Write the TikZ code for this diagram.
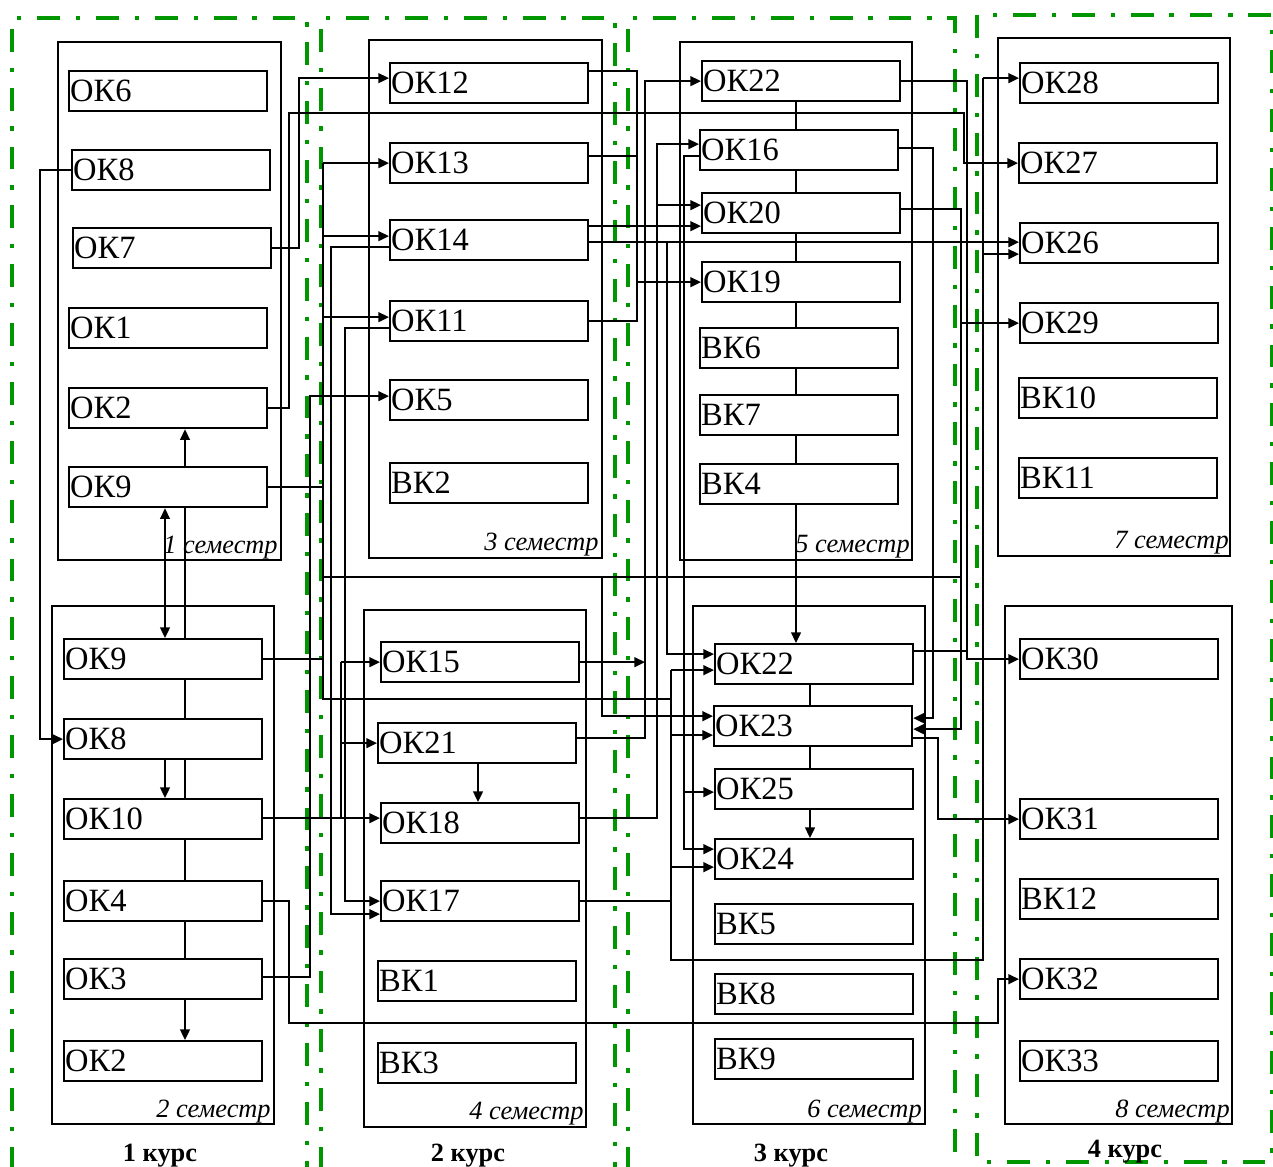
\documentclass[tikz,border=0pt]{standalone}
\usepackage{fontspec}
\setmainfont{Liberation Serif}
\usetikzlibrary{arrows.meta, calc}
\definecolor{KGreen}{RGB}{0,150,0}

\begin{document}
\begin{tikzpicture}[x=0.02cm, y=-0.02cm,
    kbox/.style={draw, line width=1.3pt, minimum width=3.96cm, minimum height=0.8cm,
                 text width=3.92cm, align=left, inner xsep=0.5pt, inner ysep=0pt,
                 font=\fontsize{18.5}{20}\selectfont, anchor=north west},
    sem/.style={draw, line width=1.2pt},
    kurs/.style={draw=KGreen, line width=2.2pt,
                 dash pattern=on 13pt off 9pt on 2.5pt off 9pt},
    link/.style={line width=1.1pt},
    arr/.style={link, -{Triangle[length=6pt,width=5.5pt]}},
    semlbl/.style={font=\fontsize{15}{17}\selectfont\itshape, anchor=base east, inner sep=0pt},
    kurslbl/.style={font=\fontsize{15}{17}\selectfont\bfseries, anchor=base, inner sep=0pt}
  ]
  \useasboundingbox (0,0) rectangle (1273,1166);

  % course frames
  \draw[kurs] (12,1170) -- (12,18) -- (307,18) -- (307,1170);
  \draw[kurs] (321,1170) -- (321,18) -- (615,18) -- (615,1170);
  \draw[kurs] (628,1170) -- (628,18) -- (955,18) -- (955,1170);
  \draw[kurs] (977,15) rectangle (1272,1162);

  % semesters
  \draw[sem] (58,42) rectangle (281,560);
  \draw[sem] (52,606) rectangle (274,1124);
  \draw[sem] (369,40) rectangle (602,558);
  \draw[sem] (364,610) rectangle (586,1127);
  \draw[sem] (680,42) rectangle (912,560);
  \draw[sem] (693,606) rectangle (925,1124);
  \draw[sem] (998,38) rectangle (1230,556);
  \draw[sem] (1005,606) rectangle (1232,1124);

  % disciplines
  \foreach \n/\x/\y/\t in {s1-ok6/68/70/ОК6, s1-ok8/71/149/ОК8, s1-ok7/72/227/ОК7,
      s1-ok1/68/307/ОК1, s1-ok2/68/387/ОК2, s1-ok9/68/466/ОК9}
    \node[kbox] (\n) at (\x,\y) {\t};
  \foreach \n/\x/\y/\t in {s2-ok9/63/638/ОК9, s2-ok8/63/718/ОК8, s2-ok10/63/798/ОК10,
      s2-ok4/63/880/ОК4, s2-ok3/63/958/ОК3, s2-ok2/63/1040/ОК2}
    \node[kbox] (\n) at (\x,\y) {\t};
  \foreach \n/\x/\y/\t in {s3-ok12/389/62/ОК12, s3-ok13/389/142/ОК13, s3-ok14/389/219/ОК14,
      s3-ok11/389/300/ОК11, s3-ok5/389/379/ОК5, s3-vk2/389/462/ВК2}
    \node[kbox] (\n) at (\x,\y) {\t};
  \foreach \n/\x/\y/\t in {s4-ok15/380/641/ОК15, s4-ok21/377/722/ОК21, s4-ok18/380/802/ОК18,
      s4-ok17/380/880/ОК17, s4-vk1/377/960/ВК1, s4-vk3/377/1042/ВК3}
    \node[kbox] (\n) at (\x,\y) {\t};
  \foreach \n/\x/\y/\t in {s5-ok22/701/60/ОК22, s5-ok16/699/129/ОК16, s5-ok20/701/192/ОК20,
      s5-ok19/701/261/ОК19, s5-vk6/699/327/ВК6, s5-vk7/699/394/ВК7, s5-vk4/699/463/ВК4}
    \node[kbox] (\n) at (\x,\y) {\t};
  \foreach \n/\x/\y/\t in {s6-ok22/714/643/ОК22, s6-ok23/713/705/ОК23, s6-ok25/714/768/ОК25,
      s6-ok24/714/838/ОК24, s6-vk5/714/903/ВК5, s6-vk8/714/973/ВК8, s6-vk9/714/1038/ВК9}
    \node[kbox] (\n) at (\x,\y) {\t};
  \foreach \n/\x/\y/\t in {s7-ok28/1019/62/ОК28, s7-ok27/1018/142/ОК27, s7-ok26/1019/222/ОК26,
      s7-ok29/1019/302/ОК29, s7-vk10/1018/377/ВК10, s7-vk11/1018/457/ВК11}
    \node[kbox] (\n) at (\x,\y) {\t};
  \foreach \n/\x/\y/\t in {s8-ok30/1019/638/ОК30, s8-ok31/1019/798/ОК31, s8-vk12/1019/878/ВК12,
      s8-ok32/1019/958/ОК32, s8-ok33/1019/1040/ОК33}
    \node[kbox] (\n) at (\x,\y) {\t};

  \node[semlbl] (l1) at (278,553) {1 семестр};
  \node[semlbl] (l2) at (271,1117) {2 семестр};
  \node[semlbl] (l3) at (599,550) {3 семестр};
  \node[semlbl] (l4) at (584,1119) {4 семестр};
  \node[semlbl] (l5) at (910,552) {5 семестр};
  \node[semlbl] (l6) at (922,1117) {6 семестр};
  \node[semlbl] (l7) at (1229,548) {7 семестр};
  \node[semlbl] (l8) at (1230,1117) {8 семестр};

  \node[kurslbl] (k1) at (160,1161) {1 курс};
  \node[kurslbl] (k2) at (468,1161) {2 курс};
  \node[kurslbl] (k3) at (791,1161) {3 курс};
  \node[kurslbl] (k4) at (1125,1157) {4 курс};

  % bus lines
  \coordinate (xL) at (40,0);
  \coordinate (xD) at (165,0);
  \coordinate (xS) at (185,0);
  \coordinate (xA) at (289,0);
  \coordinate (xB) at (299,0);
  \coordinate (xT) at (310,0);
  \coordinate (xC) at (323,0);
  \coordinate (xM) at (331,0);
  \coordinate (xK) at (341,0);
  \coordinate (xN) at (345,0);
  \coordinate (xW) at (478,0);
  \coordinate (xP) at (602,0);
  \coordinate (xE) at (637,0);
  \coordinate (xF) at (645,0);
  \coordinate (xG) at (657,0);
  \coordinate (xH) at (667,0);
  \coordinate (xJ) at (671,0);
  \coordinate (xQ) at (684,0);
  \coordinate (xU) at (796,0);
  \coordinate (xV) at (810,0);
  \coordinate (xX) at (933,0);
  \coordinate (xO) at (938,0);
  \coordinate (xY) at (961,0);
  \coordinate (xZ) at (964,0);
  \coordinate (xI) at (967,0);
  \coordinate (xR) at (983,0);
  \coordinate (x98) at (998,0);
  \coordinate (y113) at (0,113);
  \coordinate (y577) at (0,577);
  \coordinate (y699) at (0,699);
  \coordinate (y960) at (0,960);
  \coordinate (y1023) at (0,1023);

  % 1-2 semester
  \draw[arr] (s1-ok8.west) -| (xL |- s2-ok8.west) -- (s2-ok8.west);
  \draw[arr] (s1-ok9.north -| xS) -- (s1-ok2.south -| xS);
  \draw[link] (s1-ok9.south -| xS) -- (s2-ok9.north -| xS);
  \draw[link, {Triangle[length=6pt,width=5.5pt]}-{Triangle[length=6pt,width=5.5pt]}]
    (s1-ok9.south -| xD) -- (s2-ok9.north -| xD);
  \foreach \a/\b in {s2-ok9/s2-ok8, s2-ok8/s2-ok10, s2-ok10/s2-ok4, s2-ok4/s2-ok3}
    \draw[link] (\a.south -| xS) -- (\b.north -| xS);
  \draw[arr] (s2-ok8.south -| xD) -- (s2-ok10.north -| xD);
  \draw[arr] (s2-ok3.south -| xS) -- (s2-ok2.north -| xS);

  \draw[arr] (s1-ok2.east) -| (xA |- y113) -- (xZ |- y113) |- (s7-ok27.west);
  \draw[arr] (s1-ok7.east) -- (s1-ok7.east -| xB) |- ($(s3-ok12.west)+(0,-5)$);

  % OK9
  \draw[link] (s1-ok9.east) -- (s1-ok9.east -| xC);
  \draw[link] (s2-ok9.east) -- (s2-ok9.east -| xC);
  \draw[link] (xC |- s3-ok13.west) -- (xC |- y699) -- (xJ |- y699);
  \draw[arr] (xC |- s3-ok13.west) -- (s3-ok13.west);
  \draw[arr] ($(xC |- s3-ok14.west)+(0,-4)$) -- ($(s3-ok14.west)+(0,-4)$);
  \draw[arr] ($(xC |- s3-ok11.west)+(0,-4)$) -- ($(s3-ok11.west)+(0,-4)$);
  \draw[link] (xC |- y577) -- (xY |- y577);
  \draw[arr] (xP |- y577) |- ($(s6-ok23.west)+(0,-10)$);

  \draw[arr] ($(s3-ok14.west)+(0,7)$) -| ($(xM |- s4-ok17.west)+(0,13)$)
    -- ($(s4-ok17.west)+(0,13)$);
  \draw[arr] ($(s3-ok11.west)+(0,7)$) -| (xN |- s4-ok17.west) -- (s4-ok17.west);

  % OK10
  \draw[arr] ($(s2-ok10.east)+(0,-1)$) -- ($(s4-ok18.west)+(0,-5)$);
  \draw[link] ($(xK |- s4-ok18.west)+(0,-5)$) -- (xK |- s4-ok15.west);
  \draw[arr] (xK |- s4-ok15.west) -- (s4-ok15.west);
  \draw[arr] (xK |- s4-ok21.west) -- (s4-ok21.west);

  \draw[arr] ($(s2-ok3.east)+(0,-2)$) -| ($(xT |- s3-ok5.west)+(0,-4)$)
    -- ($(s3-ok5.west)+(0,-4)$);
  \draw[arr] (s2-ok4.east) -| (xA |- y1023) -| (x98 |- s8-ok32.west) -- (s8-ok32.west);

  % 3-4 semester
  \draw[link] ($(s3-ok12.east)+(0,-12)$) -- ($(s3-ok12.east -| xE)+(0,-12)$)
    -- (xE |- s3-ok11.east) -- (s3-ok11.east);
  \draw[link] ($(s3-ok13.east)+(0,-7)$) -- ($(s3-ok13.east -| xE)+(0,-7)$);
  \draw[arr] (xE |- s5-ok19.west) -- (s5-ok19.west);

  \draw[arr] ($(s4-ok21.east)+(0,-5)$) -| (xF |- s5-ok22.west) -- (s5-ok22.west);
  \draw[arr] (s4-ok15.east) -- (s4-ok15.east -| xF);
  \draw[arr] ($(s4-ok18.east)+(0,-5)$) -| ($(xG |- s5-ok16.west)+(0,-6)$)
    -- ($(s5-ok16.west)+(0,-6)$);
  \draw[arr] ($(xG |- s5-ok20.west)+(0,-8)$) -- ($(s5-ok20.west)+(0,-8)$);
  \draw[arr] ($(s3-ok14.east)+(0,-14)$) -- ($(s5-ok20.west)+(0,13)$);
  \draw[arr] ($(s3-ok14.east)+(0,2)$) -- ($(s7-ok26.west)+(0,-1)$);
  \draw[arr] ($(xH |- s3-ok14.east)+(0,2)$) |- ($(s6-ok22.west)+(0,-10)$);

  \draw[arr] ($(s5-ok16.west)+(0,6)$) -| ($(xQ |- s6-ok24.west)+(0,-10)$)
    -- ($(s6-ok24.west)+(0,-10)$);
  \draw[arr] ($(xQ |- s6-ok25.west)+(0,3)$) -- ($(s6-ok25.west)+(0,3)$);

  % OK17
  \draw[link] (s4-ok17.east) -- (s4-ok17.east -| xJ);
  \draw[link] ($(xJ |- s6-ok22.west)+(0,6)$) -- (xJ |- y960)
    -| ($(xR |- s7-ok28.west)+(0,-5)$);
  \draw[arr] ($(xJ |- s6-ok22.west)+(0,6)$) -- ($(s6-ok22.west)+(0,6)$);
  \draw[arr] ($(xJ |- s6-ok23.west)+(0,9)$) -- ($(s6-ok23.west)+(0,9)$);
  \draw[arr] ($(xJ |- s6-ok24.west)+(0,8)$) -- ($(s6-ok24.west)+(0,8)$);
  \draw[arr] ($(xR |- s7-ok28.west)+(0,-5)$) -- ($(s7-ok28.west)+(0,-5)$);
  \draw[arr] ($(xR |- s7-ok26.west)+(0,11)$) -- ($(s7-ok26.west)+(0,11)$);

  % 5-6 semester
  \draw[arr] (s5-ok22.east) -| (xI |- s8-ok30.west) -- (s8-ok30.west);
  \draw[link] ($(s6-ok22.east)+(0,-13)$) -- ($(xI |- s6-ok22.east)+(0,-13)$);
  \draw[arr] ($(s5-ok16.east)+(0,-2)$) -| ($(xX |- s6-ok23.east)+(0,-8)$)
    -- ($(s6-ok23.east)+(0,-8)$);
  \draw[arr] ($(s5-ok20.east)+(0,-4)$) -| ($(xY |- s6-ok23.east)+(0,3)$)
    -- ($(s6-ok23.east)+(0,3)$);
  \draw[arr] (xY |- s7-ok29.west) -- (s7-ok29.west);
  \draw[arr] ($(s6-ok23.east)+(0,12)$) -| (xO |- s8-ok31.west) -- (s8-ok31.west);

  \foreach \a/\b in {s5-ok22/s5-ok16, s5-ok16/s5-ok20, s5-ok20/s5-ok19,
      s5-ok19/s5-vk6, s5-vk6/s5-vk7, s5-vk7/s5-vk4}
    \draw[link] (\a.south -| xU) -- (\b.north -| xU);
  \draw[arr] (s5-vk4.south -| xU) -- (s6-ok22.north -| xU);
  \draw[link] (s6-ok22.south -| xV) -- (s6-ok23.north -| xV);
  \draw[link] (s6-ok23.south -| xV) -- (s6-ok25.north -| xV);
  \draw[arr] (s6-ok25.south -| xV) -- (s6-ok24.north -| xV);
  \draw[arr] (s4-ok21.south -| xW) -- (s4-ok18.north -| xW);
\end{tikzpicture}
\end{document}
